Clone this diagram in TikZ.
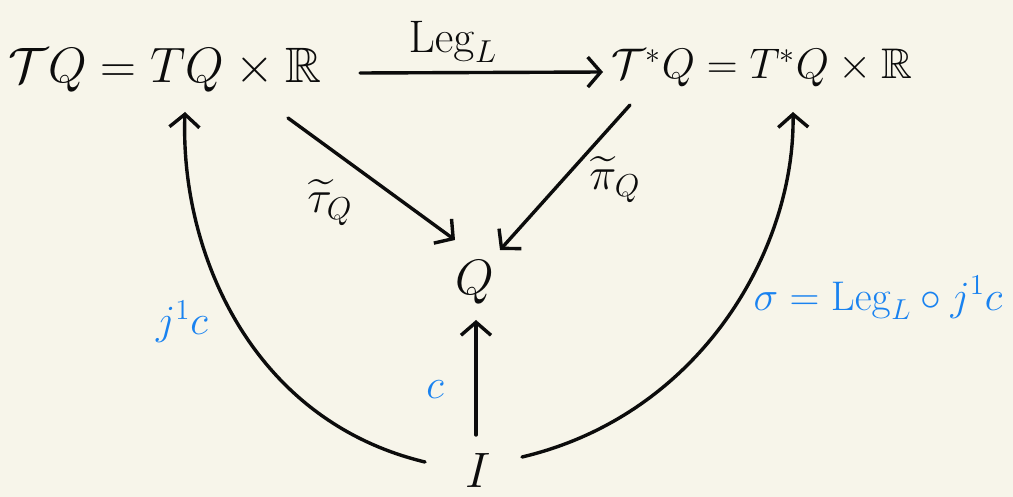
\documentclass[tikz,border=0pt]{standalone}
\usepackage{amssymb}
\usetikzlibrary{arrows.meta}
\definecolor{bg}{RGB}{247,245,234}
\definecolor{ink}{RGB}{12,12,12}
\definecolor{blu}{RGB}{25,130,240}
\begin{document}
\begin{tikzpicture}[x=1pt,y=-1pt, line width=3.4pt, line cap=round, draw=ink,
  arr/.style={draw=ink,-{Straight Barb[length=13pt,width=30pt]}},
  big/.style={text=ink,font=\huge, inner sep=0pt, scale=2.4},
  mid/.style={text=ink,font=\huge, inner sep=0pt, scale=2.2},
  blbl/.style={text=blu, font=\huge, inner sep=0pt, scale=2.0}]
\fill[bg] (0,0) rectangle (1013,497);
\useasboundingbox (0,0) rectangle (1013,497);
% nodes
\node[big] (TQ) at (165,70) {$\mathcal{T}Q = TQ\times\mathbb{R}$};
\node[big, scale=0.86] (TsQ) at (762,68) {$\mathcal{T}^*Q = T^*Q\times\mathbb{R}$};
\node[big] (Q) at (475,282) {$Q$};
\node[big] (I) at (478,470) {$I$};
% labels
\node[mid] (leg) at (453,42) {$\mathrm{Leg}_L$};
\node[mid] (tau) at (330,203) {$\widetilde{\tau}_Q$};
\node[mid] (pi) at (615,180) {$\widetilde{\pi}_Q$};
\node[blbl] (j1c) at (182,322) {$j^1c$};
\node[blbl] (c) at (435,390) {$c$};
\node[blbl] (sig) at (878,298) {$\sigma = \mathrm{Leg}_L\circ j^1c$};
% endpoints
\coordinate (h1) at (360,73);
\coordinate (h2) at (603,72);
\coordinate (d1) at (288,118);
\coordinate (d2) at (455,240);
\coordinate (e1) at (630,105);
\coordinate (e2) at (500,250);
\coordinate (v1) at (476,435);
\coordinate (v2) at (476,320);
\coordinate (l1) at (425,462);
\coordinate (l2) at (185,112);
\coordinate (r1) at (522,457);
\coordinate (r2) at (793,112);
% connectors
\draw[arr] (h1) -- (h2);
\draw[arr] (d1) -- (d2);
\draw[arr] (e1) -- (e2);
\draw[arr] (v1) -- (v2);
\draw[arr] (l1) .. controls (250,420) and (180,250) .. (l2);
\draw[arr] (r1) .. controls (700,415) and (795,250) .. (r2);
\end{tikzpicture}
\end{document}
